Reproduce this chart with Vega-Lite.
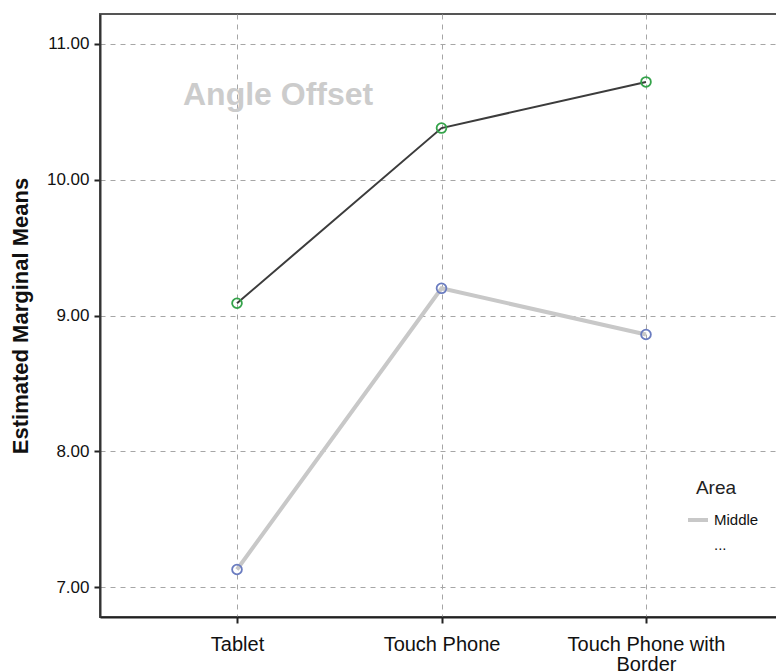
{
  "$schema": "https://vega.github.io/schema/vega-lite/v6.json",
  "width": 683,
  "height": 603,
  "autosize": {"type": "none"},
  "padding": {"left": 100, "top": 14, "right": 0, "bottom": 54},
  "background": "white",
  "title": {
    "text": "Angle Offset",
    "anchor": "start",
    "frame": "group",
    "offset": -98,
    "dx": 83,
    "fontSize": 32,
    "fontWeight": "bold",
    "color": "#cccccc",
    "font": "Liberation Sans"
  },
  "config": {
    "font": "Liberation Sans",
    "view": {"stroke": "#555555", "strokeWidth": 2}
  },
  "data": {
    "values": [
      {"Device": "Tablet", "Area": "Middle", "Mean": 7.13},
      {"Device": "Touch Phone", "Area": "Middle", "Mean": 9.2},
      {"Device": "Touch Phone with Border", "Area": "Middle", "Mean": 8.86},
      {"Device": "Tablet", "Area": "Edge", "Mean": 9.09},
      {"Device": "Touch Phone", "Area": "Edge", "Mean": 10.38},
      {"Device": "Touch Phone with Border", "Area": "Edge", "Mean": 10.72}
    ]
  },
  "encoding": {
    "x": {
      "field": "Device",
      "type": "nominal",
      "sort": ["Tablet", "Touch Phone", "Touch Phone with Border"],
      "scale": {"type": "point", "padding": 0.67},
      "axis": {
        "title": null,
        "labelAngle": 0,
        "labelFontSize": 20,
        "labelColor": "#111111",
        "labelPadding": 11,
        "labelLineHeight": 20,
        "labelLimit": 0,
        "labelExpr": "datum.label === 'Touch Phone with Border' ? ['Touch Phone with', 'Border'] : datum.label",
        "tickSize": 6,
        "tickWidth": 2,
        "tickColor": "#222222",
        "domainColor": "#222222",
        "domainWidth": 2,
        "grid": true,
        "gridDash": [5, 5],
        "gridColor": "#a6a6a6",
        "gridWidth": 1
      }
    },
    "y": {
      "field": "Mean",
      "type": "quantitative",
      "scale": {"domain": [6.78, 11.22], "nice": false, "zero": false},
      "axis": {
        "title": "Estimated Marginal Means",
        "titleFontSize": 22,
        "titleFontWeight": "bold",
        "titleColor": "#111111",
        "titlePadding": 14,
        "values": [7, 8, 9, 10, 11],
        "format": ".2f",
        "labelFontSize": 17,
        "labelColor": "#111111",
        "labelPadding": 5,
        "tickSize": 6,
        "tickWidth": 2,
        "tickColor": "#222222",
        "domainColor": "#333333",
        "domainWidth": 2,
        "grid": true,
        "gridDash": [5, 5],
        "gridColor": "#a6a6a6",
        "gridWidth": 1
      }
    }
  },
  "layer": [
    {
      "mark": {"type": "line", "strokeCap": "butt"},
      "encoding": {
        "color": {
          "field": "Area",
          "type": "nominal",
          "scale": {"domain": ["Middle", "Edge"], "range": ["#c8c8c8", "#3c3c3c"]},
          "legend": {
            "title": "Area",
            "orient": "none",
            "legendX": 586,
            "legendY": 465,
            "titleFontSize": 19,
            "titleFontWeight": "normal",
            "titleColor": "#222222",
            "titleAnchor": "middle",
            "titlePadding": 10,
            "labelFontSize": 15,
            "labelColor": "#111111",
            "labelOffset": 4,
            "labelExpr": "datum.value === 'Middle' ? 'Middle' : '...'",
            "symbolType": "stroke",
            "symbolSize": 400,
            "symbolStrokeWidth": 4,
            "rowPadding": 5,
            "encode": {
              "title": {
                "update": {"dx": {"value": -6}}
              },
              "symbols": {
                "update": {
                  "strokeOpacity": {"signal": "datum.value === 'Middle' ? 1 : 0"}
                }
              }
            }
          }
        },
        "strokeWidth": {
          "condition": {"test": "datum.Area === 'Middle'", "value": 4},
          "value": 2
        }
      }
    },
    {
      "mark": {"type": "point", "filled": false, "size": 95, "strokeWidth": 1.8, "opacity": 1},
      "encoding": {
        "detail": {"field": "Area", "type": "nominal"},
        "stroke": {
          "condition": {"test": "datum.Area === 'Middle'", "value": "#6a7cc0"},
          "value": "#34a34a"
        }
      }
    }
  ]
}
